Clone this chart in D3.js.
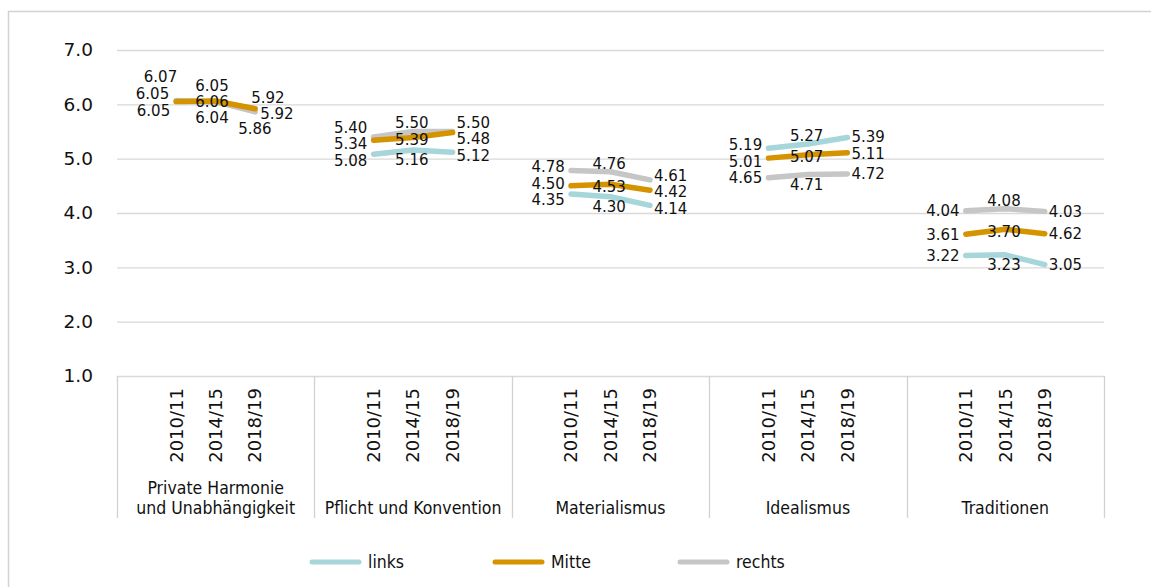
<!DOCTYPE html>
<html>
<head>
<meta charset="utf-8">
<script src="https://cdn.jsdelivr.net/npm/d3@7"></script>
<style>
  html, body { margin: 0; padding: 0; background: #ffffff; }
  svg { display: block; }
  .num { font-family: "DejaVu Sans", sans-serif; fill: #111; }
  .txt { font-family: "DejaVu Sans Condensed", "DejaVu Sans", sans-serif; font-stretch: condensed; fill: #111; }
</style>
</head>
<body>
<svg id="chart" width="1151" height="587"></svg>
<script>
// ---------------- data ----------------
const categories = ["Private Harmonie\nund Unabhängigkeit", "Pflicht und Konvention", "Materialismus", "Idealismus", "Traditionen"];
const years = ["2010/11", "2014/15", "2018/19"];
const seriesNames = ["links", "Mitte", "rechts"];
// values in order: category by category, year by year
const linksValues  = [6.07, 6.04, 5.92,  5.08, 5.16, 5.12,  4.35, 4.30, 4.14,  5.19, 5.27, 5.39,  3.22, 3.23, 3.05];
const mitteValues  = [6.05, 6.06, 5.92,  5.34, 5.39, 5.48,  4.50, 4.53, 4.42,  5.01, 5.07, 5.11,  3.61, 3.70, 3.62];
const rechtsValues = [6.05, 6.05, 5.86,  5.40, 5.50, 5.50,  4.78, 4.76, 4.61,  4.65, 4.71, 4.72,  4.04, 4.08, 4.03];
// printed label texts (as shown in the source, which prints 4.62 for the last Mitte point)
const mitteLabelTexts = ["6.05","6.06","5.92","5.34","5.39","5.48","4.50","4.53","4.42","5.01","5.07","5.11","3.61","3.70","4.62"];
const yTicks = [1, 2, 3, 4, 5, 6, 7];

// ---------------- styles ----------------
const colors = { links: "#a6d6da", Mitte: "#d59300", rechts: "#c6c6c6" };
const drawOrder = ["links", "rechts", "Mitte"];

const svg = d3.select("#chart");
const plotLeft = 117, plotRight = 1104, plotTop = 50, plotBottom = 376;

// frame
svg.append("path").attr("d", "M8.5,587 V11.5 H1151")
  .attr("fill", "none").attr("stroke", "#d2d2d2").attr("stroke-width", 1.5);

const y = d3.scaleLinear().domain([1, 7]).range([plotBottom, plotTop]);
const xg = d3.scaleBand().domain(categories).range([plotLeft, plotRight]).padding(0);
const bw = xg.bandwidth();
const xi = d3.scalePoint().domain(years).range([bw * 0.3, bw * 0.7]);
const px = (c, yr) => xg(c) + xi(yr);

// gridlines + y axis
const yAxis = d3.axisLeft(y).tickValues(yTicks).tickFormat(d3.format(".1f"))
  .tickSize(-(plotRight - plotLeft)).tickPadding(24);
const ga = svg.append("g").attr("transform", `translate(${plotLeft},0)`).call(yAxis);
ga.select(".domain").remove();
ga.selectAll(".tick line").attr("stroke", "#d9d9d9").attr("stroke-width", 1.3);
ga.attr("font-family", null).attr("font-size", null);
ga.selectAll(".tick text").attr("class", "num").style("font-size", "18.5px").attr("fill", "#111");

// category separators
const sepX = categories.map(c => xg(c)).concat([plotRight]);
svg.append("g").selectAll("line").data(sepX).join("line")
  .attr("x1", d => Math.round(d) + 0.5).attr("x2", d => Math.round(d) + 0.5)
  .attr("y1", plotBottom).attr("y2", 518)
  .attr("stroke", "#d2d2d2").attr("stroke-width", 1.3);

// year labels (rotated)
const yearG = svg.append("g");
categories.forEach(c => {
  years.forEach(yr => {
    yearG.append("text").attr("class", "num")
      .attr("transform", `translate(${px(c, yr)},388) rotate(-90)`)
      .attr("text-anchor", "end").attr("dy", "0.35em")
      .style("font-size", "18px").text(yr);
  });
});

// category labels
categories.forEach(c => {
  const lines = c.split("\n");
  const cx = xg(c) + bw / 2;
  lines.forEach((ln, k) => {
    const base = 514 - (lines.length - 1 - k) * 20;
    svg.append("text").attr("class", "txt")
      .attr("x", cx).attr("y", base).attr("text-anchor", "middle")
      .style("font-size", "17.5px").text(ln);
  });
});

// series data
const valuesBy = { links: linksValues, Mitte: mitteValues, rechts: rechtsValues };
const labelTextBy = {
  links: linksValues.map(d3.format(".2f")),
  Mitte: mitteLabelTexts,
  rechts: rechtsValues.map(d3.format(".2f"))
};
const pts = name => categories.map((c, g) =>
  years.map((yr, i) => ({ c, g, i, yr, v: valuesBy[name][g * 3 + i], s: name })));

const line = d3.line().x(d => px(d.c, d.yr)).y(d => y(d.v));
drawOrder.forEach(name => {
  svg.append("g").selectAll("path").data(pts(name)).join("path")
    .attr("d", line).attr("fill", "none")
    .attr("stroke", colors[name]).attr("stroke-width", 5.5)
    .attr("stroke-linecap", "round").attr("stroke-linejoin", "round");
});

// data labels
function relax(items, sep) {
  items.sort((a, b) => a.cy - b.cy);
  for (let it = 0; it < 60; it++) {
    for (let k = 1; k < items.length; k++) {
      const d = sep - (items[k].cy - items[k - 1].cy);
      if (d > 0) { items[k - 1].cy -= d / 2; items[k].cy += d / 2; }
    }
  }
}
// special hand placement for the crowded first category
const manual = {
  "0-links-0": [1, -23.5, "end"], "0-Mitte-0": [-7, -8.2, "end"], "0-rechts-0": [-6, 8.8, "end"],
  "0-rechts-1": [-3.7, -15.8, "middle"], "0-Mitte-1": [-3.7, 1, "middle"], "0-links-1": [-3.7, 15.8, "middle"],
  "0-Mitte-2": [-4, -11.5, "start"], "0-links-2": [5, 5.3, "start"], "0-rechts-2": [-17, 17, "start"]
};
const labels = [];
categories.forEach((c, g) => {
  years.forEach((yr, i) => {
    const col = seriesNames.map(s => {
      const v = valuesBy[s][g * 3 + i];
      return { s, v, text: labelTextBy[s][g * 3 + i], x: px(c, yr), py: y(v) };
    });
    if (i === 0) {
      col.forEach(d => { d.cy = d.py; d.dx = -6.2; d.anchor = "end"; });
      relax(col, 16.5);
    } else if (i === 1) {
      const ranked = col.slice().sort((a, b) => b.v - a.v);
      const off = [-8, 2, 10];
      ranked.forEach((d, k) => { d.cy = d.py + off[k]; d.dx = -1.3; d.anchor = "middle"; });
      relax(col, 17);
    } else {
      col.forEach(d => { d.cy = d.py; d.dx = 4; d.anchor = "start"; });
      relax(col, 16.5);
    }
    col.forEach(d => {
      const m = manual[`${g}-${d.s}-${i}`];
      if (m) { d.dx = m[0]; d.cy = d.py + m[1]; d.anchor = m[2]; }
      labels.push(d);
    });
  });
});
svg.append("g").selectAll("text").data(labels).join("text")
  .attr("class", "num").style("font-size", "15px")
  .attr("x", d => d.x + d.dx).attr("y", d => d.cy).attr("dy", "0.36em")
  .attr("text-anchor", d => d.anchor).text(d => d.text);

// legend
const legendX = [310, 493, 678];
const lg = svg.append("g");
seriesNames.forEach((s, k) => {
  lg.append("line").attr("x1", legendX[k] + 2).attr("x2", legendX[k] + 49)
    .attr("y1", 562).attr("y2", 562).attr("stroke", colors[s])
    .attr("stroke-width", 5).attr("stroke-linecap", "round");
  lg.append("text").attr("class", "txt").attr("x", legendX[k] + 58).attr("y", 562)
    .attr("dy", "0.35em").style("font-size", "17.5px").text(s);
});
</script>
</body>
</html>
